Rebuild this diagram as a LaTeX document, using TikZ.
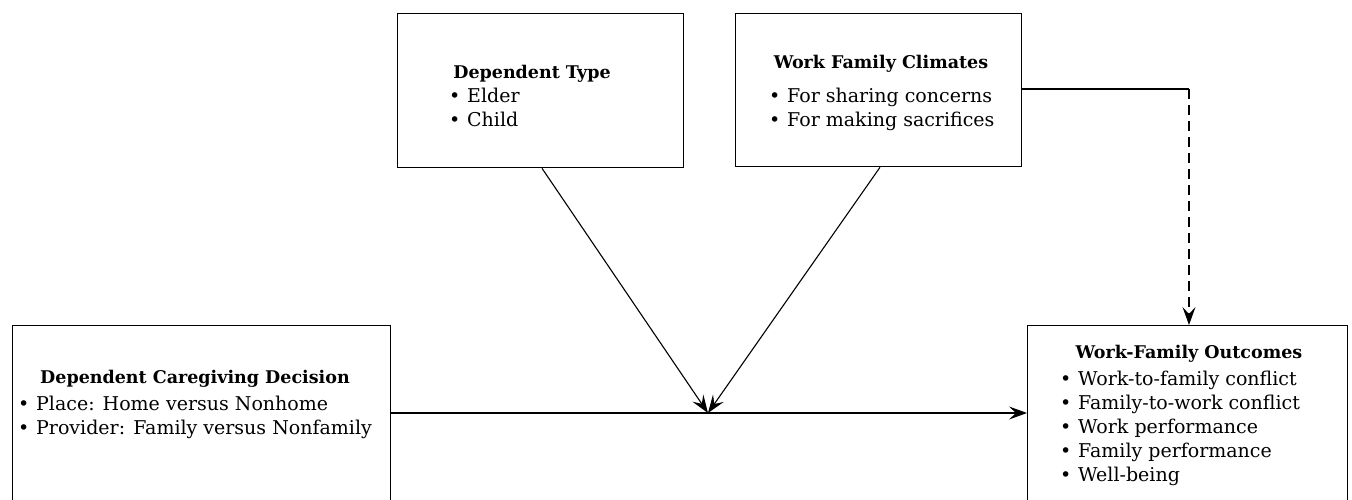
\documentclass[tikz,border=0pt]{standalone}
\usepackage{fontspec}
\setmainfont{DejaVu Serif}
\usetikzlibrary{arrows.meta}
\newcommand{\bul}{\makebox[18pt][l]{\textbullet}}
\begin{document}
\begin{tikzpicture}[x=1pt,y=-1pt,
  box/.style={draw, line width=1.3pt, inner sep=0pt, anchor=north west},
  ttl/.style={font=\fontsize{17.5}{20}\selectfont\bfseries, anchor=base, inner sep=0pt},
  itm/.style={font=\fontsize{19}{22}\selectfont, anchor=base west, inner sep=0pt},
  conn/.style={line width=1.1pt, arrows={-Stealth[length=18pt,width=13pt,inset=7pt]}},
]
\useasboundingbox (0,0) rectangle (1352,499);
\clip (0,0) rectangle (1352,499);
% boxes
\node[box, minimum width=286pt, minimum height=154pt] (dt) at (397,13) {};
\node[box, minimum width=286pt, minimum height=153pt] (wfc) at (735,13) {};
\node[box, minimum width=378pt, minimum height=200pt] (dcd) at (12,325) {};
\node[box, minimum width=320pt, minimum height=200pt] (out) at (1027,325) {};
% texts
\node[ttl] (dtT) at (532,78) {Dependent Type};
\node[itm] (dt1) at (449,102) {\bul Elder};
\node[itm] (dt2) at (449,126) {\bul Child};
\node[ttl] (wfcT) at (881,68) {Work Family Climates};
\node[itm] (wfc1) at (769,102) {\bul For sharing concerns};
\node[itm] (wfc2) at (769,126) {\bul For making sacrifices};
\node[ttl] (dcdT) at (195,383) {Dependent Caregiving Decision};
\node[itm] (dcd1) at (18,410) {\bul Place: Home versus Nonhome};
\node[itm] (dcd2) at (18,434) {\bul Provider: Family versus Nonfamily};
\node[ttl] (outT) at (1189,358) {Work-Family Outcomes};
\node[itm] (out1) at (1060,385) {\bul Work-to-family conflict};
\node[itm] (out2) at (1060,409) {\bul Family-to-work conflict};
\node[itm] (out3) at (1060,433) {\bul Work performance};
\node[itm] (out4) at (1060,457) {\bul Family performance};
\node[itm] (out5) at (1060,481) {\bul Well-being};
% connectors
\coordinate (m) at (708,413);
\coordinate (dtx) at (542,0);
\coordinate (wfx) at (880,0);
\coordinate (dc) at (1189,89);
\draw[conn] (dcd.north east |- m) -- (out.north west |- m);
\draw[conn] (dt.south -| dtx) -- (m);
\draw[conn] (wfc.south -| wfx) -- (m);
\draw[line width=1.1pt] (wfc.east |- dc) -- (dc);
\draw[conn, dash pattern=on 10pt off 6pt] (dc) -- (out.north -| dc);
\end{tikzpicture}
\end{document}
